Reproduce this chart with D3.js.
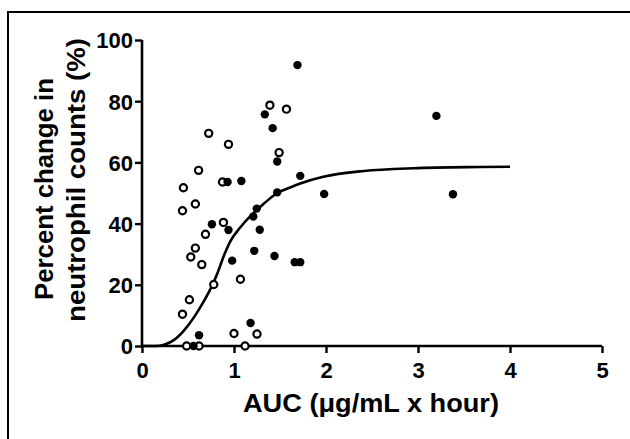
<!DOCTYPE html>
<html>
<head>
<meta charset="utf-8">
<script src="https://cdn.jsdelivr.net/npm/d3@7"></script>
<style>
  body { margin: 0; background: #fff; }
  text { font-family: "Liberation Sans", Arial, Helvetica, sans-serif; font-weight: bold; fill: #000; }
</style>
</head>
<body>
<div id="root"></div>
<script>
// filled circles: AUC (x), % change (y)
const filledX = [1.69, 3.20, 3.38, 1.335, 1.42, 1.47, 1.72, 1.98, 1.08, 0.93, 0.76, 0.94, 0.98, 1.247, 1.21, 1.28, 1.22, 1.44, 1.66, 1.72, 1.47, 1.18, 0.62, 0.56];
const filledY = [91.8, 75.2, 49.6, 75.7, 71.2, 60.3, 55.6, 49.7, 53.9, 53.6, 39.8, 37.9, 27.9, 44.9, 42.3, 38.0, 31.1, 29.4, 27.4, 27.4, 50.2, 7.5, 3.5, 0];

// open circles
const openX = [0.725, 0.94, 0.615, 0.45, 0.875, 0.44, 0.58, 0.885, 0.69, 0.58, 0.53, 0.65, 0.78, 1.07, 0.515, 0.44, 1.0, 1.25, 1.39, 1.57, 1.49, 0.485, 0.62, 1.12];
const openY = [69.5, 65.9, 57.4, 51.7, 53.6, 44.2, 46.4, 40.4, 36.5, 32.0, 29.1, 26.6, 20.1, 21.8, 15.1, 10.4, 4.1, 3.9, 78.7, 77.4, 63.2, 0, 0, 0];

// fitted curve
const curveX = [0, 0.15, 0.24, 0.35, 0.46, 0.57, 0.66, 0.75, 0.82, 0.89, 0.96, 1.07, 1.18, 1.32, 1.47, 1.61, 1.72, 1.97, 2.41, 2.95, 3.67, 4.0];
const curveY = [0, 0, 0.4, 2, 5.2, 9.6, 14, 19, 23.8, 29.5, 34.2, 38.8, 42.5, 46.4, 50, 51.8, 53.1, 55.3, 57.2, 58.1, 58.5, 58.6];

const xTicks = [0, 1, 2, 3, 4, 5];
const yTicks = [0, 20, 40, 60, 80, 100];

const w = 630, h = 439;

const xScale = d3.scaleLinear().domain([0, 5]).range([142, 602]);
const yScale = d3.scaleLinear().domain([0, 100]).range([346, 40]);

const svg = d3.select("#root")
    .append("svg")
    .attr("width", w)
    .attr("height", h);

// scanned frame (top and left edges)
svg.append("path")
    .attr("d", "M8,439 L8,12 L630,12")
    .attr("fill", "none")
    .attr("stroke", "#000")
    .attr("stroke-width", 2);

// axes
const xAxis = d3.axisBottom(xScale).tickValues(xTicks).tickSize(7).tickPadding(11).tickFormat(d => d);
const gx = svg.append("g")
    .attr("transform", "translate(0," + yScale(0) + ")")
    .call(xAxis);

const yAxis = d3.axisLeft(yScale).tickValues(yTicks).tickSize(7).tickPadding(2).tickFormat(d => d);
const gy = svg.append("g")
    .attr("transform", "translate(" + xScale(0) + ",0)")
    .call(yAxis);

[gx, gy].forEach(g => {
    g.select(".domain").attr("stroke-width", 2.6);
    g.selectAll(".tick line").attr("stroke-width", 2.4);
    g.selectAll(".tick text").style("font-size", "22px").style("font-family", null);
});
gx.select(".domain").attr("d", "M" + xScale(0) + ",0H" + xScale(5));
gy.select(".domain").attr("d", "M0," + yScale(100) + "V" + (yScale(0) + 1));
gx.selectAll(".tick text").attr("dy", "0.62em");
gy.selectAll(".tick text").attr("dy", "0.36em");

// fitted curve
const line = d3.line()
    .x((d, i) => xScale(curveX[i]))
    .y((d, i) => yScale(curveY[i]))
    .curve(d3.curveMonotoneX);

svg.append("path")
    .datum(curveX)
    .attr("d", line)
    .attr("fill", "none")
    .attr("stroke", "#000")
    .attr("stroke-width", 2.6);

// open points
svg.selectAll(".open")
    .data(openX)
    .enter()
    .append("circle")
    .attr("class", "open")
    .attr("cx", (d, i) => xScale(openX[i]))
    .attr("cy", (d, i) => yScale(openY[i]))
    .attr("r", 3.6)
    .attr("fill", "#fff")
    .attr("stroke", "#000")
    .attr("stroke-width", 2.2);

// filled points
svg.selectAll(".filled")
    .data(filledX)
    .enter()
    .append("circle")
    .attr("class", "filled")
    .attr("cx", (d, i) => xScale(filledX[i]))
    .attr("cy", (d, i) => yScale(filledY[i]))
    .attr("r", 4.2)
    .attr("fill", "#000");

// axis titles
svg.append("text")
    .attr("x", 371)
    .attr("y", 412)
    .attr("text-anchor", "middle")
    .attr("textLength", 256)
    .attr("lengthAdjust", "spacingAndGlyphs")
    .style("font-size", "25px")
    .text("AUC (μg/mL x hour)");

const yTitle = svg.append("text")
    .attr("transform", "rotate(-90)")
    .attr("text-anchor", "middle")
    .style("font-size", "26px");

yTitle.append("tspan")
    .attr("x", -189)
    .attr("y", 53)
    .attr("textLength", 222)
    .attr("lengthAdjust", "spacingAndGlyphs")
    .text("Percent change in");
yTitle.append("tspan")
    .attr("x", -180)
    .attr("y", 85)
    .attr("textLength", 284)
    .attr("lengthAdjust", "spacingAndGlyphs")
    .text("neutrophil counts (%)");
</script>
</body>
</html>
